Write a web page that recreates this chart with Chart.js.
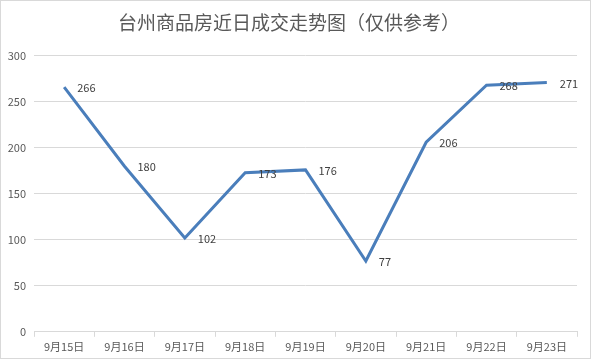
<!DOCTYPE html>
<html>
<head>
<meta charset="utf-8">
<script src="https://cdn.jsdelivr.net/npm/chart.js@4"></script>
<style>
  body { margin: 0; background: #fff; }
  #box { width: 591px; height: 359px; box-sizing: border-box; border: 1px solid #d9d9d9; }
</style>
</head>
<body>
<div id="box"><canvas id="myChart" width="589" height="357"></canvas></div>
<script>
/* DATA */
var dates = ['9月15日', '9月16日', '9月17日', '9月18日', '9月19日', '9月20日', '9月21日', '9月22日', '9月23日'];
var deals = [266, 180, 102, 173, 176, 77, 206, 268, 271];
var yTicks = [0, 50, 100, 150, 200, 250, 300];
/* DATA */

var fontFamily = "'Noto Sans CJK SC', 'Liberation Sans', sans-serif";

// labels next to each point
var pointLabels = {
    id: 'pointLabels',
    afterDatasetsDraw: function(chart) {
        var ctx = chart.ctx;
        var meta = chart.getDatasetMeta(0);
        ctx.save();
        ctx.fillStyle = '#404040';
        ctx.font = '11px ' + fontFamily;
        ctx.textAlign = 'left';
        ctx.textBaseline = 'middle';
        meta.data.forEach(function(pt, i) {
            ctx.fillText(deals[i], pt.x + 13, pt.y + 1);
        });
        ctx.restore();
    }
};

var config = {
    type: 'line',
    data: {
        labels: dates,
        datasets: [
            { label: '成交', borderColor: '#4a7ebb', borderWidth: 3, data: deals,
              pointRadius: 0, tension: 0, fill: false }
        ]
    },
    options: {
        responsive: false,
        animation: false,
        layout: { padding: { left: 0, right: 13, top: 0, bottom: 2 } },
        plugins: {
            legend: { display: false },
            tooltip: { enabled: false },
            title: {
                display: true,
                text: '台州商品房近日成交走势图（仅供参考）',
                color: '#595959',
                font: { family: fontFamily, size: 19, weight: 'normal' },
                padding: { top: 10, bottom: 22 }
            }
        },
        scales: {
            x: {
                offset: true,
                grid: { offset: true, drawOnChartArea: false, drawTicks: true, tickLength: 5, color: '#d9d9d9' },
                border: { display: true, color: '#d9d9d9' },
                ticks: { color: '#595959', font: { family: fontFamily, size: 11 }, padding: 3, maxRotation: 0, autoSkip: false }
            },
            y: {
                min: 0, max: 300,
                afterBuildTicks: function(s) { s.ticks = yTicks.map(function(v) { return { value: v }; }); },
                afterFit: function(s) { s.width = 33; },
                grid: { color: '#d9d9d9', drawTicks: false },
                border: { display: false },
                ticks: { color: '#595959', font: { family: fontFamily, size: 11 }, padding: 8 }
            }
        }
    },
    plugins: [pointLabels]
};

window.onload = function() {
    var ctx = document.getElementById('myChart').getContext('2d');
    window.myChart = new Chart(ctx, config);
};
</script>
</body>
</html>
